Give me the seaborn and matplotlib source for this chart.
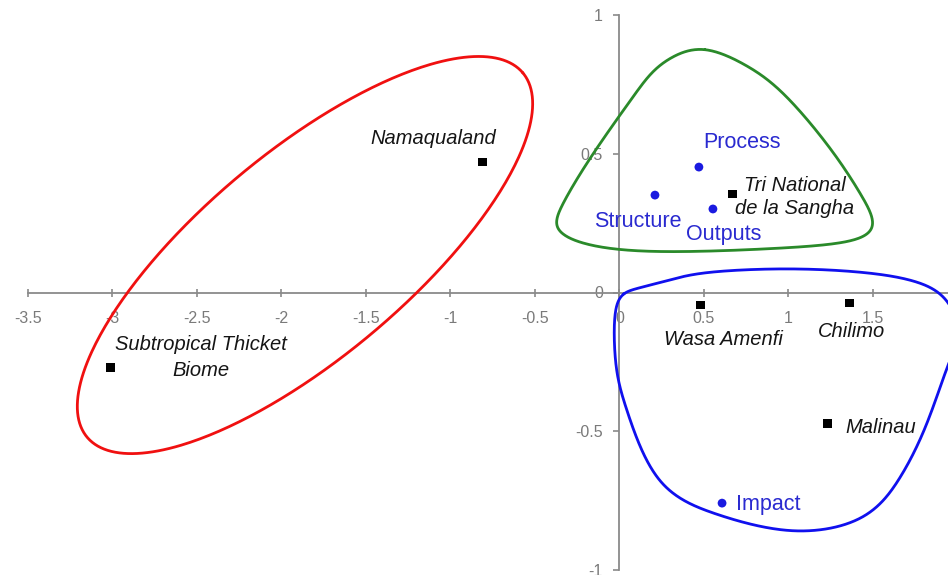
import numpy as np
import pandas as pd
import matplotlib
matplotlib.use("Agg")
import matplotlib.pyplot as plt
import seaborn as sns

# ---------------- data ----------------
site_names = ["Namaqualand", "Subtropical Thicket\nBiome", "Tri National\nde la Sangha",
              "Wasa Amenfi", "Chilimo", "Malinau"]
site_x = [-0.81, -3.01, 0.67, 0.48, 1.36, 1.23]
site_y = [0.47, -0.27, 0.355, -0.045, -0.038, -0.472]

dim_names = ["Process", "Structure", "Outputs", "Impact"]
dim_x = [0.47, 0.21, 0.553, 0.607]
dim_y = [0.452, 0.351, 0.301, -0.759]

x_ticks = [-3.5, -3, -2.5, -2, -1.5, -1, -0.5, 0, 0.5, 1, 1.5]
x_tick_labels = ["-3.5", "-3", "-2.5", "-2", "-1.5", "-1", "-0.5", "0", "0.5", "1", "1.5"]
y_ticks = [-1, -0.5, 0, 0.5, 1]
y_tick_labels = ["-1", "-0.5", "0", "0.5", "1"]

# cluster outline control points (data units), smoothed by a closed B-spline
green_outline_x = [0.494, 0.760, 0.967, 1.263, 1.441, 1.530, 1.423, 0.967, 0.180, -0.216,
                   -0.400, -0.352, -0.175, 0.080, 0.180, 0.300]
green_outline_y = [0.895, 0.820, 0.730, 0.514, 0.344, 0.240, 0.180, 0.158, 0.140, 0.168,
                   0.225, 0.308, 0.488, 0.705, 0.790, 0.850]
blue_outline_x = [0.020, 0.104, 0.299, 0.476, 0.991, 1.464, 1.760, 1.940, 2.030, 1.940,
                  1.820, 1.660, 1.464, 1.027, 0.560, 0.358, 0.222, 0.120, 0.040, -0.020,
                  -0.035, -0.025]
blue_outline_y = [0.000, 0.015, 0.045, 0.075, 0.090, 0.075, 0.045, -0.010, -0.140, -0.260,
                  -0.485, -0.680, -0.830, -0.880, -0.800, -0.748, -0.676, -0.560, -0.420, -0.300,
                  -0.150, -0.045]
# red ellipse: centre (data), semi-axes (display pixels), angle
red_center = (-1.861, 0.135)
red_semi_axes_px = (284, 103)
red_angle_deg = 39.9

# ---------------- styling ----------------
sns.set_theme(style="white")
plt.rcParams["font.family"] = ["Liberation Sans", "DejaVu Sans"]

W, H, DPI = 948, 575, 100
fig = plt.figure(figsize=(W / DPI, H / DPI), dpi=DPI)
ax = fig.add_axes([28 / W, 5 / H, 920 / W, 555 / H])
XMIN, XMAX = -3.5, 1.944
ax.set_xlim(XMIN, XMAX)
ax.set_ylim(-1, 1)

sx = 920 / (XMAX - XMIN)
sy = 555 / 2.0


def closed_bspline(xs, ys, n=40):
    P = np.column_stack([xs, ys])
    N = len(P)
    t = np.linspace(0, 1, n, endpoint=False)[:, None]
    b0 = (1 - t) ** 3 / 6
    b1 = (3 * t ** 3 - 6 * t ** 2 + 4) / 6
    b2 = (-3 * t ** 3 + 3 * t ** 2 + 3 * t + 1) / 6
    b3 = t ** 3 / 6
    out = []
    for i in range(N):
        p0, p1, p2, p3 = P[i - 1], P[i], P[(i + 1) % N], P[(i + 2) % N]
        out.append(b0 * p0 + b1 * p1 + b2 * p2 + b3 * p3)
    C = np.vstack(out + [out[0][:1]])
    return C[:, 0], C[:, 1]


# outlines
tt = np.linspace(0, 2 * np.pi, 400)
th = np.deg2rad(red_angle_deg)
a, b = red_semi_axes_px
ex = red_center[0] + (a * np.cos(tt) * np.cos(th) - b * np.sin(tt) * np.sin(th)) / sx
ey = red_center[1] + (a * np.cos(tt) * np.sin(th) + b * np.sin(tt) * np.cos(th)) / sy
ax.plot(ex, ey, color="#f01010", lw=2.0, zorder=2)

gx, gy = closed_bspline(green_outline_x, green_outline_y)
ax.plot(gx, gy, color="#2a8a2a", lw=2.0, zorder=2)
bx, by = closed_bspline(blue_outline_x, blue_outline_y)
ax.plot(bx, by, color="#1010ee", lw=2.0, zorder=2)

# points
sites = pd.DataFrame({"name": site_names, "x": site_x, "y": site_y})
dims = pd.DataFrame({"name": dim_names, "x": dim_x, "y": dim_y})
sns.scatterplot(data=sites, x="x", y="y", marker="s", color="black", s=40,
                edgecolor="none", ax=ax, zorder=4, legend=False)
sns.scatterplot(data=dims, x="x", y="y", marker="o", color="#1a1ae0", s=40,
                edgecolor="none", ax=ax, zorder=4, legend=False)

# labels (offsets in pixels from the point)
site_offsets = {"Namaqualand": (14, 24, "right", 1.2),
                "Subtropical Thicket\nBiome": (90, 10, "center", 1.45),
                "Tri National\nde la Sangha": (62, -3, "center", 1.3),
                "Wasa Amenfi": (23, -35, "center", 1.2),
                "Chilimo": (2, -28, "center", 1.2),
                "Malinau": (18, -4, "left", 1.2)}
for _, r in sites.iterrows():
    dx, dy, ha, ls = site_offsets[r["name"]]
    ax.annotate(r["name"], (r["x"], r["y"]), xytext=(dx, dy), textcoords="offset pixels",
                ha=ha, va="center", multialignment="center", fontsize=14.5,
                style="italic", color="#151515", linespacing=ls, zorder=5)

dim_offsets = {"Process": (43, 25, "center"), "Structure": (-17, -26, "center"),
               "Outputs": (11, -26, "center"), "Impact": (14, -1, "left")}
for _, r in dims.iterrows():
    dx, dy, ha = dim_offsets[r["name"]]
    ax.annotate(r["name"], (r["x"], r["y"]), xytext=(dx, dy), textcoords="offset pixels",
                ha=ha, va="center", fontsize=15.5, color="#2a2ad0", zorder=5)

# axes through origin
for s in ["top", "right"]:
    ax.spines[s].set_visible(False)
for s in ["left", "bottom"]:
    ax.spines[s].set_position(("data", 0))
    ax.spines[s].set_color("#8a8a8a")
    ax.spines[s].set_linewidth(1.3)
    ax.spines[s].set_zorder(1)

ax.set_xticks(x_ticks)
ax.set_xticklabels(x_tick_labels)
ax.set_yticks(y_ticks)
ax.set_yticklabels(y_tick_labels)
ax.tick_params(axis="x", direction="inout", length=6, width=1.2, color="#8a8a8a",
               labelcolor="#7a7a7a", labelsize=11.5, pad=10, bottom=True)
ax.tick_params(axis="y", direction="out", length=4, width=1.2, color="#8a8a8a",
               labelcolor="#7a7a7a", labelsize=11.5, pad=8, left=True)
ax.set_xlabel("")
ax.set_ylabel("")
ax.grid(False)
ax.set_facecolor("white")

fig.savefig("out.png", dpi=DPI, facecolor="white")
